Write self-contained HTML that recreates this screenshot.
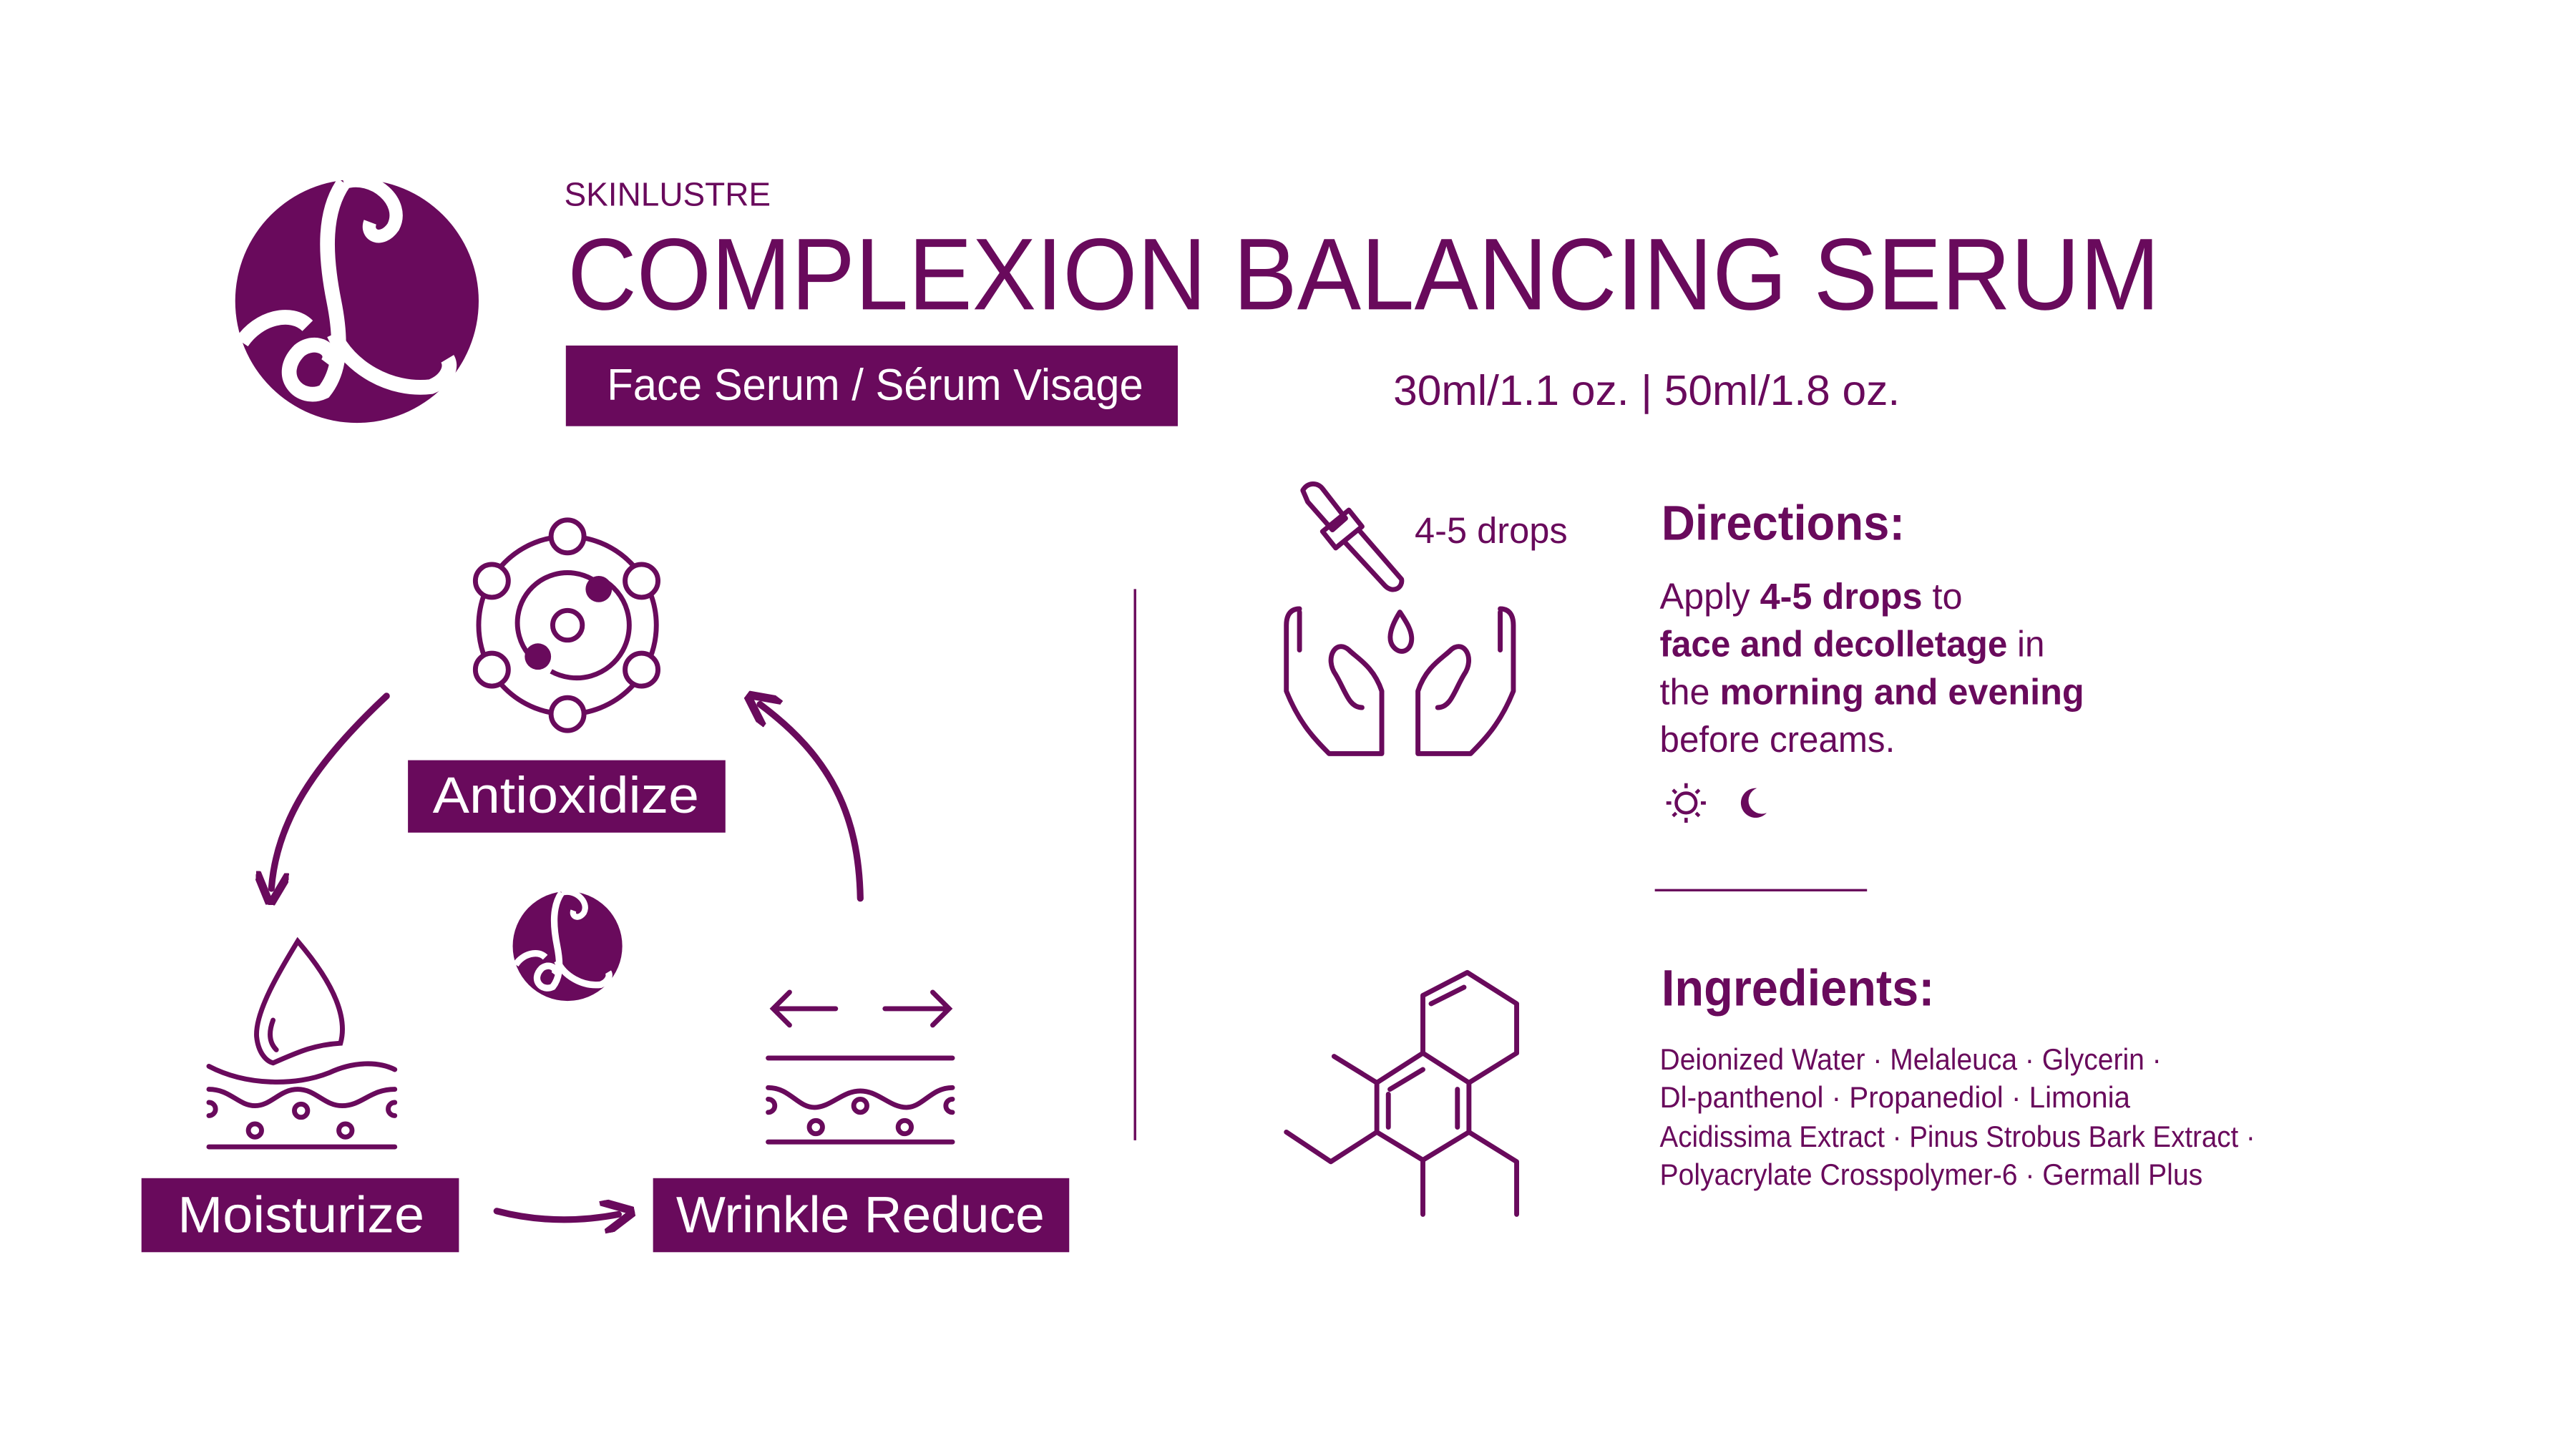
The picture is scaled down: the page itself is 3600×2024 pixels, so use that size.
<!DOCTYPE html>
<html><head><meta charset="utf-8"><style>
html,body{margin:0;padding:0;background:#fff;}
svg{display:block;}
text{font-family:"Liberation Sans",sans-serif;}
</style></head><body>
<svg width="3600" height="2024" viewBox="0 0 1566 880" preserveAspectRatio="none" xmlns="http://www.w3.org/2000/svg">
<defs>
<g id="logo">
<circle cx="0" cy="0" r="74" fill="#690a5c"/>
<path d="M-8,-72 C-20,-55 -20,-30 -14,0 C-8,30 -12,45 -20,55 C-35,62 -50,45 -35,30 C-25,22 -12,30 -18,38" fill="none" stroke="#fff" stroke-width="9"/>
<path d="M-8,-72 C10,-78 30,-60 22,-45 C15,-35 5,-40 8,-48" fill="none" stroke="#fff" stroke-width="8"/>
<path d="M-14,20 C-5,40 20,55 45,52 C55,48 58,40 55,35" fill="none" stroke="#fff" stroke-width="9"/>
<path d="M-70,25 C-60,10 -40,5 -30,15" fill="none" stroke="#fff" stroke-width="9"/>
</g>
<marker id="ah" viewBox="0 0 10 10" refX="5" refY="5" markerWidth="5" markerHeight="5" orient="auto"><path d="M0,0 L10,5 L0,10" fill="none" stroke="#690a5c" stroke-width="2.5"/></marker>
</defs>
<g fill="#690a5c">
<use href="#logo" transform="translate(217,183)"/>
<text x="343" y="125" font-size="20">SKINLUSTRE</text>
<text x="345" y="188" font-size="62" textLength="968" lengthAdjust="spacingAndGlyphs">COMPLEXION BALANCING SERUM</text>
<rect x="344" y="210" width="372" height="49"/>
<text x="369" y="243" font-size="27" fill="#fff" textLength="326" lengthAdjust="spacingAndGlyphs">Face Serum / Sérum Visage</text>
<text x="847" y="246" font-size="26" textLength="308" lengthAdjust="spacingAndGlyphs">30ml/1.1 oz. | 50ml/1.8 oz.</text>
</g>
<line x1="690" y1="358" x2="690" y2="693" stroke="#690a5c" stroke-width="1.5"/>
<g fill="none" stroke="#690a5c" stroke-width="3">
<circle cx="345" cy="380" r="54"/>
<path d="M366,352 A30,30 0 1,1 335,408" />
<path d="M330,405 A30,30 0 0,1 360,352"/>
<circle cx="345" cy="380" r="9"/>
<g fill="#fff"><circle cx="345" cy="326" r="10"/><circle cx="390" cy="353" r="10"/><circle cx="390" cy="407" r="10"/><circle cx="345" cy="434" r="10"/><circle cx="299" cy="407" r="10"/><circle cx="299" cy="353" r="10"/></g>
</g>
<circle cx="364" cy="358" r="8" fill="#690a5c"/><circle cx="327" cy="399" r="8" fill="#690a5c"/>
<rect x="248" y="462" width="193" height="44" fill="#690a5c"/>
<text x="344" y="494" font-size="31" fill="#fff" text-anchor="middle" textLength="162" lengthAdjust="spacingAndGlyphs">Antioxidize</text>
<g fill="none" stroke="#690a5c" stroke-width="4" stroke-linecap="round">
<path d="M235,423 C190,465 168,500 165,540" marker-end="url(#ah)"/>
<path d="M523,546 C522,495 505,460 462,428" marker-end="url(#ah)"/>
<path d="M302,736 C325,742 350,743 376,738" marker-end="url(#ah)"/>
</g>
<use href="#logo" transform="translate(345,575) scale(0.45)"/>
<g fill="none" stroke="#690a5c" stroke-width="3" stroke-linecap="round">
<path d="M181,572 C170,590 155,615 156,630 C157,640 162,645 166,646 C180,640 190,635 207,634 C211,620 205,600 181,572 Z"/>
<path d="M166,620 C163,628 164,634 168,638"/>
<path d="M127,648 C150,660 180,660 200,652 C215,645 230,645 240,650"/>
<path d="M127,662 C140,662 145,672 155,672 C165,672 170,662 181,662 C192,662 197,672 208,672 C220,672 225,662 240,662"/>
<path d="M127,670 A4,4 0 0,1 127,678"/><path d="M240,670 A4,4 0 0,0 240,678"/>
<circle cx="183" cy="675" r="4"/><circle cx="155" cy="687" r="4"/><circle cx="210" cy="687" r="4"/>
<line x1="127" y1="697" x2="240" y2="697"/>
</g>
<rect x="86" y="716" width="193" height="45" fill="#690a5c"/>
<text x="183" y="749" font-size="31" fill="#fff" text-anchor="middle" textLength="150" lengthAdjust="spacingAndGlyphs">Moisturize</text>
<g fill="none" stroke="#690a5c" stroke-width="3" stroke-linecap="round">
<path d="M508,613 L470,613 M480,603 L470,613 L480,623"/>
<path d="M538,613 L577,613 M567,603 L577,613 L567,623"/>
<line x1="467" y1="643" x2="579" y2="643"/>
<path d="M467,661 C480,661 485,673 495,673 C505,673 512,663 523,663 C534,663 541,673 551,673 C561,673 566,661 579,661"/>
<path d="M467,668 A4,4 0 0,1 467,676"/><path d="M579,668 A4,4 0 0,0 579,676"/>
<circle cx="523" cy="672" r="4"/><circle cx="496" cy="685" r="4"/><circle cx="550" cy="685" r="4"/>
<line x1="467" y1="694" x2="579" y2="694"/>
</g>
<rect x="397" y="716" width="253" height="45" fill="#690a5c"/>
<text x="523" y="749" font-size="31" fill="#fff" text-anchor="middle" textLength="224" lengthAdjust="spacingAndGlyphs">Wrinkle Reduce</text>
<g fill="none" stroke="#690a5c" stroke-width="3" stroke-linecap="round" stroke-linejoin="round">
<path d="M792,298 C795,293 801,293 804,297 L818,315 L810,322 L795,305 Z"/>
<path d="M804,323 L820,310 L828,320 L812,333 Z"/>
<path d="M818,330 L842,356 C847,361 853,357 852,352 L826,322"/>
<path d="M851,372 C846,380 843,388 847,393 C851,398 857,396 858,390 C859,384 855,378 851,372 Z"/>
<path d="M790,370 C782,370 782,378 782,380 L782,420 C790,440 800,450 808,458 L840,458 L840,420 C835,405 825,400 820,395 C812,388 805,400 812,410 C818,420 820,430 828,430"/>
<path d="M790,372 L790,395"/>
<path d="M912,370 C920,370 920,378 920,380 L920,420 C912,440 902,450 894,458 L862,458 L862,420 C867,405 877,400 882,395 C890,388 897,400 890,410 C884,420 882,430 874,430"/>
<path d="M912,372 L912,395"/>
</g>
<text x="860" y="330" font-size="22" fill="#690a5c">4-5 drops</text>
<g fill="#690a5c">
<text x="1010" y="328" font-size="30" font-weight="bold" textLength="148" lengthAdjust="spacingAndGlyphs">Directions:</text>
<text x="1009" y="370" font-size="22" textLength="184" lengthAdjust="spacingAndGlyphs">Apply <tspan font-weight="bold">4-5 drops</tspan> to</text>
<text x="1009" y="399" font-size="22" textLength="234" lengthAdjust="spacingAndGlyphs"><tspan font-weight="bold">face and decolletage</tspan> in</text>
<text x="1009" y="428" font-size="22" textLength="258" lengthAdjust="spacingAndGlyphs">the <tspan font-weight="bold">morning and evening</tspan></text>
<text x="1009" y="457" font-size="22" textLength="143" lengthAdjust="spacingAndGlyphs">before creams.</text>
<text x="1010" y="611" font-size="31" font-weight="bold" textLength="166" lengthAdjust="spacingAndGlyphs">Ingredients:</text>
<text x="1009" y="650" font-size="18" textLength="305" lengthAdjust="spacingAndGlyphs">Deionized Water · Melaleuca · Glycerin ·</text>
<text x="1009" y="673" font-size="18" textLength="286" lengthAdjust="spacingAndGlyphs">Dl-panthenol · Propanediol · Limonia</text>
<text x="1009" y="697" font-size="18" textLength="362" lengthAdjust="spacingAndGlyphs">Acidissima Extract · Pinus Strobus Bark Extract ·</text>
<text x="1009" y="720" font-size="18" textLength="330" lengthAdjust="spacingAndGlyphs">Polyacrylate Crosspolymer-6 · Germall Plus</text>
</g>
<g stroke="#690a5c" stroke-width="2" fill="none">
<circle cx="1025" cy="488" r="6"/>
<path d="M1025,476 v3 M1025,497 v3 M1013,488 h3 M1034,488 h3 M1017,480 l2,2 M1031,494 l2,2 M1033,480 l-2,2 M1017,496 l2,-2"/>
</g>
<path d="M1068,479 A9,9 0 1,0 1074,494 A8,8 0 0,1 1068,479 Z" fill="#690a5c"/>
<line x1="1006" y1="541" x2="1135" y2="541" stroke="#690a5c" stroke-width="1.5"/>
<g fill="none" stroke="#690a5c" stroke-width="3" stroke-linecap="round" stroke-linejoin="round">
<path d="M865,605 L892,591 L922,610 L922,640 L893,658 L865,640 Z"/>
<path d="M870,610 L890,600"/>
<path d="M865,640 L837,658 L837,688 L865,705 L893,688 L893,658"/>
<path d="M845,662 L865,650 M844,665 L844,685 M886,662 L886,685"/>
<path d="M837,658 L811,642 M837,688 L809,706 L782,688 M865,705 L865,738 M893,688 L922,706 L922,738"/>
</g>
</svg>
</body></html>
